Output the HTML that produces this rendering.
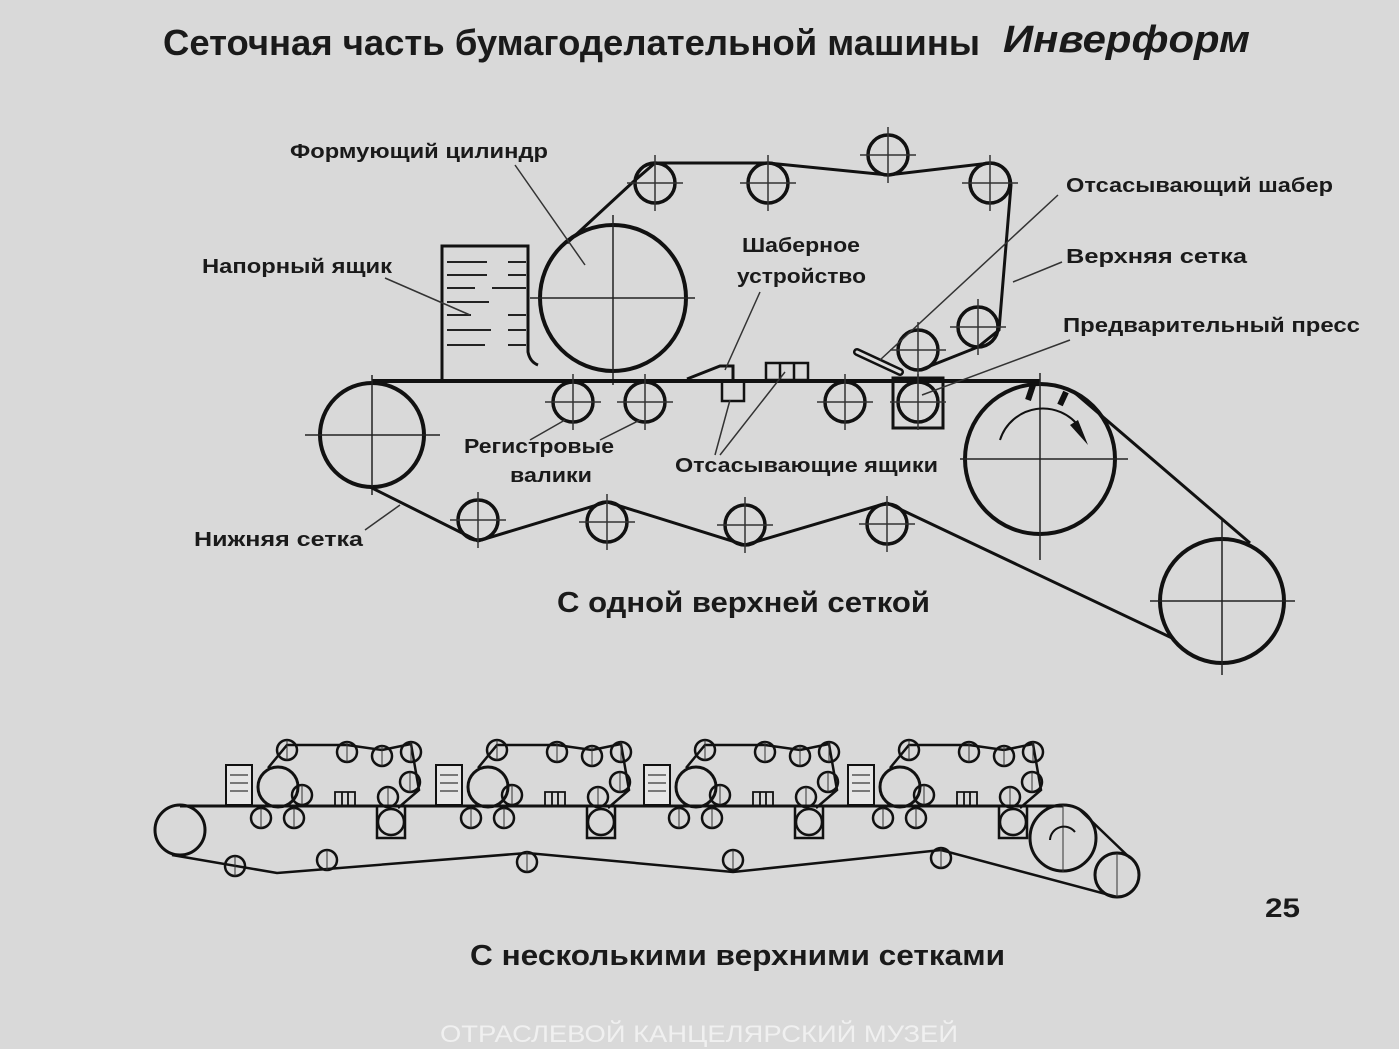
<!DOCTYPE html>
<html><head><meta charset="utf-8"><style>
html,body{margin:0;padding:0;background:#d9d9d9;}
svg{display:block}
text{font-family:"Liberation Sans",sans-serif;font-weight:bold;fill:#1a1a1a;}
</style></head><body>
<svg width="1399" height="1049" viewBox="0 0 1399 1049" xmlns="http://www.w3.org/2000/svg">
<defs>
<g id="roll">
 <circle r="20" fill="none" stroke="#111" stroke-width="3.5"/>
 <path d="M-28 0H28M0 -28V28" stroke="#333" stroke-width="1.5"/>
</g>
<g id="sroll">
 <circle r="10" fill="none" stroke="#111" stroke-width="2.5"/>
 <path d="M0 -10V10" stroke="#333" stroke-width="1"/>
</g>
<g id="unit">
 <rect x="226" y="765" width="26" height="40" fill="#e6e6e6" stroke="#111" stroke-width="2"/>
 <path d="M230 775h18M230 783h18M230 791h18" stroke="#555" stroke-width="1.5"/>
 <circle cx="278" cy="787" r="20" fill="none" stroke="#111" stroke-width="3"/>
 <path d="M268 768 L287 745 L347 745 L382 750 L411 744 L419 790 L398 808" fill="none" stroke="#111" stroke-width="2.5"/>
 <use href="#sroll" x="287" y="750"/><use href="#sroll" x="347" y="752"/><use href="#sroll" x="382" y="756"/><use href="#sroll" x="411" y="752"/><use href="#sroll" x="410" y="782"/>
 <use href="#sroll" x="302" y="795"/><use href="#sroll" x="388" y="797"/>
 <use href="#sroll" x="261" y="818"/><use href="#sroll" x="294" y="818"/>
 <rect x="377" y="806" width="28" height="32" fill="none" stroke="#111" stroke-width="2.5"/>
 <circle cx="391" cy="822" r="13" fill="none" stroke="#111" stroke-width="2.5"/>
 <path d="M335 792h20v14h-20zM342 792v14M348 792v14" fill="none" stroke="#111" stroke-width="1.8"/>
</g>
</defs>

<text x="163" y="55" font-size="36" textLength="817" lengthAdjust="spacingAndGlyphs">Сеточная часть бумагоделательной машины</text>
<text x="1003" y="52" font-size="38" font-style="italic" font-family="Liberation Serif" textLength="247" lengthAdjust="spacingAndGlyphs">Инверформ</text>

<path d="M442 380V246H528V352 Q530 362 538 365" fill="none" stroke="#111" stroke-width="3"/>
<path d="M447 262h40M508 262h18M447 275h40M508 275h18M447 288h28M492 288h34M447 302h42M447 315h24M508 315h18M447 330h44M508 330h18M447 345h38M508 345h18" stroke="#222" stroke-width="2"/>
<circle cx="613" cy="298" r="73" fill="none" stroke="#111" stroke-width="4"/>
<path d="M530 298H695M613 215V385" stroke="#222" stroke-width="1.5"/>
<path d="M567 243 L633 182 L655 163 L768 163 L888 175 L990 163 Q1010 165 1011 185 L999 330 L978 347 L920 370" fill="none" stroke="#111" stroke-width="3"/>
<use href="#roll" x="655" y="183"/><use href="#roll" x="768" y="183"/><use href="#roll" x="888" y="155"/><use href="#roll" x="990" y="183"/><use href="#roll" x="978" y="327"/><use href="#roll" x="918" y="350"/>
<path d="M857 352 L900 372" stroke="#111" stroke-width="8" stroke-linecap="round"/>
<path d="M857 352 L900 372" stroke="#ddd" stroke-width="3" stroke-linecap="round"/>
<path d="M687 379 L720 366 L733 366 V380" fill="none" stroke="#111" stroke-width="3"/>
<rect x="722" y="381" width="22" height="20" fill="none" stroke="#111" stroke-width="2.5"/>
<path d="M766 363h42v17h-42zM780 363v17M794 363v17" fill="none" stroke="#111" stroke-width="2.5"/>
<path d="M372 381 H1040" stroke="#111" stroke-width="4"/>
<circle cx="372" cy="435" r="52" fill="none" stroke="#111" stroke-width="4"/>
<path d="M305 435H440M372 375V495" stroke="#222" stroke-width="1.5"/>
<use href="#roll" x="573" y="402"/><use href="#roll" x="645" y="402"/><use href="#roll" x="845" y="402"/>
<rect x="893" y="378" width="50" height="50" fill="none" stroke="#111" stroke-width="3"/>
<use href="#roll" x="918" y="402"/>
<circle cx="1040" cy="459" r="75" fill="none" stroke="#111" stroke-width="4"/>
<path d="M960 459H1128M1040 373V560" stroke="#222" stroke-width="1.5"/>
<path d="M1000 440 A45 45 0 0 1 1080 428" fill="none" stroke="#111" stroke-width="2"/>
<path d="M1070 425 L1088 445 L1078 420 Z" fill="#111"/>
<path d="M1033 385 L1028 400 M1066 392 L1060 405" stroke="#111" stroke-width="6"/>
<circle cx="1222" cy="601" r="62" fill="none" stroke="#111" stroke-width="4"/>
<path d="M1150 601H1295M1222 520V675" stroke="#222" stroke-width="1.5"/>
<path d="M1075 393 L1250 543" stroke="#111" stroke-width="3"/>
<path d="M370 487 L478 541 L607 502 L745 545 L887 503 L1172 638" fill="none" stroke="#111" stroke-width="3"/>
<use href="#roll" x="478" y="520"/><use href="#roll" x="607" y="522"/><use href="#roll" x="745" y="525"/><use href="#roll" x="887" y="524"/>

<g stroke="#333" stroke-width="1.5" fill="none">
<path d="M515 165 L585 265"/>
<path d="M385 278 L470 315"/>
<path d="M760 292 L725 370"/>
<path d="M1058 195 L880 360"/>
<path d="M1062 262 L1013 282"/>
<path d="M1070 340 L922 395"/>
<path d="M715 455 L730 400 M720 455 L785 372"/>
<path d="M530 440 L565 420 M600 440 L640 420"/>
<path d="M365 530 L400 505"/>
</g>

<g font-size="20">
<text x="290" y="158" textLength="258" lengthAdjust="spacingAndGlyphs">Формующий цилиндр</text>
<text x="202" y="273" textLength="190" lengthAdjust="spacingAndGlyphs">Напорный ящик</text>
<text x="742" y="252" textLength="118" lengthAdjust="spacingAndGlyphs">Шаберное</text>
<text x="737" y="283" textLength="129" lengthAdjust="spacingAndGlyphs">устройство</text>
<text x="1066" y="192" textLength="267" lengthAdjust="spacingAndGlyphs">Отсасывающий шабер</text>
<text x="1066" y="263" textLength="181" lengthAdjust="spacingAndGlyphs">Верхняя сетка</text>
<text x="1063" y="332" textLength="297" lengthAdjust="spacingAndGlyphs">Предварительный пресс</text>
<text x="464" y="453" textLength="150" lengthAdjust="spacingAndGlyphs">Регистровые</text>
<text x="510" y="482" textLength="82" lengthAdjust="spacingAndGlyphs">валики</text>
<text x="675" y="472" textLength="263" lengthAdjust="spacingAndGlyphs">Отсасывающие ящики</text>
<text x="194" y="546" textLength="169" lengthAdjust="spacingAndGlyphs">Нижняя сетка</text>
</g>
<text x="557" y="612" font-size="29" textLength="373" lengthAdjust="spacingAndGlyphs">С одной верхней сеткой</text>

<use href="#unit" x="0"/><use href="#unit" x="210"/><use href="#unit" x="418"/><use href="#unit" x="622"/>
<path d="M180 806 H1063" stroke="#111" stroke-width="3"/>
<circle cx="180" cy="830" r="25" fill="none" stroke="#111" stroke-width="3"/>
<path d="M172 855 L277 873 L527 853 L733 872 L941 850 L1117 897" fill="none" stroke="#111" stroke-width="2.5"/>
<use href="#sroll" x="235" y="866"/><use href="#sroll" x="327" y="860"/><use href="#sroll" x="527" y="862"/><use href="#sroll" x="733" y="860"/><use href="#sroll" x="941" y="858"/>
<circle cx="1063" cy="838" r="33" fill="none" stroke="#111" stroke-width="3"/>
<path d="M1063 805V872" stroke="#333" stroke-width="1"/>
<path d="M1050 840 A14 14 0 0 1 1075 832" fill="none" stroke="#111" stroke-width="2"/>
<circle cx="1117" cy="875" r="22" fill="none" stroke="#111" stroke-width="3"/>
<path d="M1117 853V897" stroke="#333" stroke-width="1"/>
<path d="M1080 810 L1130 858" stroke="#111" stroke-width="2.5"/>

<text x="1265" y="917" font-size="27" textLength="35" lengthAdjust="spacingAndGlyphs">25</text>
<text x="470" y="965" font-size="29" textLength="535" lengthAdjust="spacingAndGlyphs">С несколькими верхними сетками</text>
<text x="440" y="1042" font-size="24" textLength="518" lengthAdjust="spacingAndGlyphs" style="font-weight:normal;fill:#f0f0f0">ОТРАСЛЕВОЙ КАНЦЕЛЯРСКИЙ МУЗЕЙ</text>
</svg>
</body></html>
